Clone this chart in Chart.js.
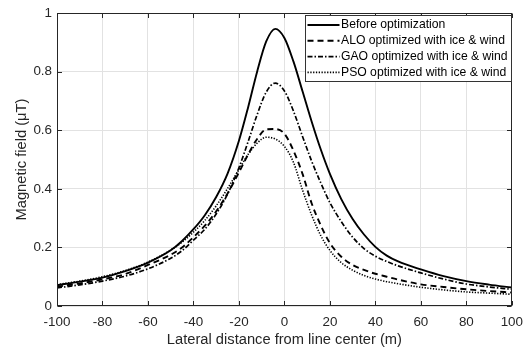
<!DOCTYPE html>
<html>
<head>
<meta charset="utf-8">
<script src="https://cdn.jsdelivr.net/npm/chart.js@4.4.0/dist/chart.umd.min.js"></script>
<style>
html,body{margin:0;padding:0;background:#fff}
</style>
</head>
<body>
<canvas id="graficoCampo" width="531" height="352"></canvas>
<script>
// datos
let distancia = [-100,-90,-80,-70,-60,-50,-45,-40,-35,-30,-25,-20,-16,-12,-8,-4,0,4,8,12,16,20,25,30,35,40,45,50,60,70,80,90,100]
let antes = [0.071,0.083,0.097,0.119,0.148,0.19,0.222,0.262,0.31,0.372,0.452,0.564,0.677,0.80,0.903,0.946,0.915,0.834,0.732,0.629,0.534,0.451,0.365,0.297,0.244,0.202,0.172,0.152,0.125,0.102,0.085,0.073,0.063]
let alo = [0.066,0.077,0.091,0.109,0.14,0.175,0.2,0.235,0.274,0.323,0.384,0.456,0.517,0.57,0.603,0.604,0.588,0.53,0.45,0.35,0.275,0.215,0.168,0.14,0.123,0.11,0.10,0.09,0.074,0.065,0.057,0.051,0.046]
let gao = [0.062,0.072,0.085,0.102,0.127,0.163,0.189,0.225,0.262,0.314,0.382,0.472,0.56,0.653,0.73,0.761,0.734,0.665,0.578,0.494,0.42,0.353,0.288,0.235,0.196,0.17,0.152,0.137,0.113,0.092,0.075,0.065,0.057]
let pso = [0.073,0.085,0.10,0.121,0.15,0.191,0.218,0.252,0.292,0.342,0.401,0.466,0.517,0.556,0.576,0.57,0.545,0.49,0.395,0.31,0.24,0.19,0.148,0.122,0.104,0.092,0.083,0.076,0.064,0.055,0.048,0.044,0.04]
let ticksX = [-100,-80,-60,-40,-20,0,20,40,60,80,100]
let ticksY = [0,0.2,0.4,0.6,0.8,1]

let puntos = serie => distancia.map((x, i) => ({x: x, y: serie[i]}))

let texto = '#262626'
let fuente = '"Liberation Sans", Arial, sans-serif'

// caja de ejes y marcas hacia adentro, estilo matlab
let marco = {
  id: 'marco',
  afterDatasetsDraw(chart) {
    let {ctx, chartArea: a, scales} = chart
    let l = Math.round(a.left) + 0.5, r = Math.round(a.right) - 0.5
    let t = Math.round(a.top) + 0.5, b = Math.round(a.bottom) - 0.5
    ctx.save()
    ctx.strokeStyle = texto
    ctx.lineWidth = 1
    ctx.beginPath()
    scales.x.ticks.forEach(tk => {
      let px = Math.round(scales.x.getPixelForValue(tk.value)) + 0.5
      ctx.moveTo(px, b); ctx.lineTo(px, b - 4.5)
      ctx.moveTo(px, t); ctx.lineTo(px, t + 4.5)
    })
    scales.y.ticks.forEach(tk => {
      let py = Math.round(scales.y.getPixelForValue(tk.value)) + 0.5
      ctx.moveTo(l, py); ctx.lineTo(l + 4.5, py)
      ctx.moveTo(r, py); ctx.lineTo(r - 4.5, py)
    })
    ctx.stroke()
    ctx.strokeRect(l, t, r - l, b - t)
    ctx.restore()
  }
}

// leyenda dentro del area, arriba a la derecha
let leyenda = {
  id: 'leyenda',
  afterDraw(chart) {
    let {ctx, chartArea: a} = chart
    let ancho = 206, alto = 66
    let x0 = Math.round(a.right) - 1 - ancho + 0.5
    let y0 = Math.round(a.top) + 2.5
    ctx.save()
    ctx.fillStyle = '#fff'
    ctx.fillRect(x0, y0, ancho, alto)
    ctx.strokeStyle = '#333'
    ctx.lineWidth = 1
    ctx.strokeRect(x0, y0, ancho, alto)
    ctx.font = '12.2px ' + fuente
    ctx.textBaseline = 'middle'
    chart.data.datasets.forEach((ds, i) => {
      let y = y0 + 9.5 + i * 15.8
      ctx.beginPath()
      ctx.setLineDash(ds.borderDash || [])
      ctx.lineWidth = ds.borderWidth
      ctx.strokeStyle = ds.borderColor
      ctx.moveTo(x0 + 2, y)
      ctx.lineTo(x0 + 34, y)
      ctx.stroke()
      ctx.setLineDash([])
      ctx.fillStyle = '#000'
      ctx.fillText(ds.label, x0 + 35.5, y)
    })
    ctx.restore()
  }
}

let grafico = new Chart(document.getElementById('graficoCampo'), {
  type: 'line',
  data: {
    datasets: [
      {label: 'Before optimization', data: puntos(antes), borderColor: '#000', borderWidth: 1.9, borderDash: []},
      {label: 'ALO optimized with ice & wind', data: puntos(alo), borderColor: '#000', borderWidth: 1.9, borderDash: [6, 4]},
      {label: 'GAO optimized with ice & wind', data: puntos(gao), borderColor: '#000', borderWidth: 1.7, borderDash: [5, 2, 1.5, 2]},
      {label: 'PSO optimized with ice & wind', data: puntos(pso), borderColor: '#000', borderWidth: 1.6, borderDash: [1.3, 1.5]}
    ]
  },
  options: {
    responsive: false,
    devicePixelRatio: 1,
    animation: false,
    elements: {point: {radius: 0}, line: {cubicInterpolationMode: 'monotone', fill: false}},
    layout: {padding: {left: 0, right: 14, top: 9, bottom: 1}},
    plugins: {legend: {display: false}, tooltip: {enabled: false}},
    scales: {
      x: {
        type: 'linear',
        min: -100, max: 100,
        afterBuildTicks: s => { s.ticks = ticksX.map(v => ({value: v})) },
        afterFit: s => { s.height = 45 },
        grid: {color: '#e2e2e2', drawTicks: false},
        border: {display: false},
        ticks: {color: texto, padding: 8, maxRotation: 0, font: {family: fuente, size: 13.4}},
        title: {display: true, text: 'Lateral distance from line center (m)', color: texto,
          font: {family: fuente, size: 14.7}, padding: {top: 0, bottom: 2}}
      },
      y: {
        min: 0, max: 1,
        afterBuildTicks: s => { s.ticks = ticksY.map(v => ({value: v})) },
        afterFit: s => { s.width = 57 },
        grid: {color: '#e2e2e2', drawTicks: false},
        border: {display: false},
        ticks: {color: texto, padding: 5, font: {family: fuente, size: 13.4},
          callback: v => String(Number(v.toFixed(1)))},
        title: {display: true, text: 'Magnetic field (μT)', color: texto,
          font: {family: fuente, size: 14.7}, padding: {top: 13, bottom: 0}}
      }
    }
  },
  plugins: [marco, leyenda]
})
</script>
</body>
</html>
